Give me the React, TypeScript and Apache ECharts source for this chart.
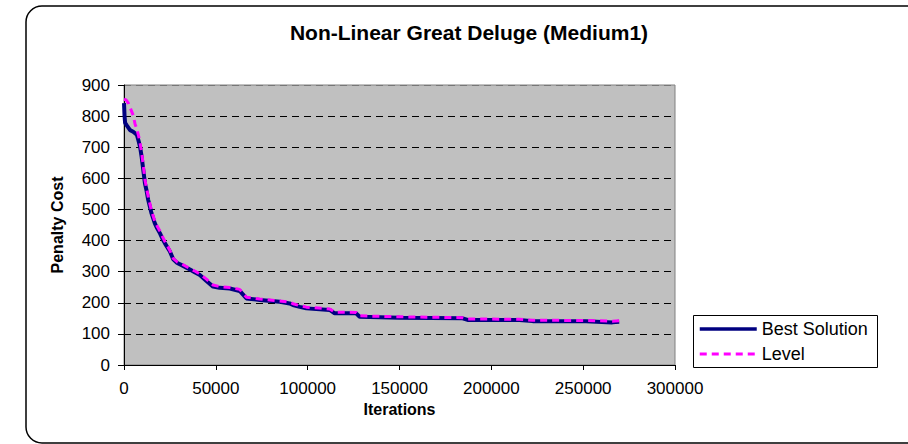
import React, { useEffect, useRef } from "react";
import * as echarts from "echarts";

const seriesNames = ["Best Solution", "Level"];

const bestSolution: [number, number][] = [
  [0, 842], [300, 800], [600, 778], [1500, 770], [3300, 755], [5000, 750], [6000, 745],
  [7000, 740], [7800, 723], [8800, 700], [9600, 669], [10500, 627], [11400, 584],
  [12300, 560], [13200, 530], [15000, 487], [16800, 455], [18000, 440], [19600, 423],
  [21000, 405], [22300, 391], [25000, 365], [26800, 340], [29000, 328], [31400, 321],
  [35900, 307], [38500, 298], [41300, 289], [44900, 270], [48500, 252], [52000, 248],
  [57600, 246], [63000, 238], [66700, 214], [73900, 209], [84800, 203], [90200, 198],
  [92000, 193], [95700, 187], [99300, 182], [112000, 177], [114700, 166], [126400, 166],
  [128300, 155], [150000, 152], [184400, 150], [187100, 145], [215200, 145],
  [222500, 141], [251500, 141], [265900, 137], [269600, 139],
];

const level: [number, number][] = [
  [0, 854], [1200, 852], [2500, 840], [3500, 825], [5000, 803], [6000, 775], [7000, 758],
  [8000, 735], [9000, 705], [9800, 675], [10600, 635], [11500, 592], [12400, 565],
  [13300, 538], [15000, 495], [16800, 462], [18000, 447], [19600, 430], [21000, 412],
  [22300, 397], [25000, 368], [26800, 343], [29000, 331], [31400, 325], [35900, 310],
  [38500, 302], [41300, 293], [44900, 276], [48500, 257], [52000, 252], [57600, 249],
  [63000, 243], [66700, 218], [73900, 212], [84800, 206], [90200, 202], [92000, 197],
  [95700, 191], [99300, 186], [112000, 180], [114700, 170], [126400, 169], [128300, 158],
  [150000, 155], [184400, 152], [187100, 148], [215200, 147], [222500, 144],
  [251500, 143], [265900, 141], [269600, 142],
];

const xTicks = { min: 0, max: 300000, interval: 50000 };
const yTicks = { min: 0, max: 900, interval: 100 };

const FONT = "'Liberation Sans', Arial, sans-serif";

export default function App() {
  const ref = useRef<HTMLDivElement>(null);
  useEffect(() => {
    if (!ref.current) return;
    const chart = echarts.init(ref.current, undefined, { renderer: "svg" });
    const splitColors = Array.from({ length: 10 }, (_, i) => (i === 9 ? "#777777" : "#000000"));
    chart.setOption({
      animation: false,
      backgroundColor: "#ffffff",
      textStyle: { fontFamily: FONT },
      graphic: [
        {
          type: "rect",
          shape: { x: 26, y: 6, width: 900, height: 437, r: 16 },
          style: { fill: "none", stroke: "#000", lineWidth: 1.5 },
          silent: true,
          z: -10,
        },
        {
          type: "text",
          x: 469,
          y: 32,
          style: {
            text: "Non-Linear Great Deluge (Medium1)",
            fontSize: 21,
            fontWeight: "bold",
            fontFamily: FONT,
            fill: "#000",
            align: "center",
            verticalAlign: "middle",
          },
        },
        {
          type: "rect",
          shape: { x: 693.5, y: 315.5, width: 184, height: 52 },
          style: { fill: "#fff", stroke: "#000", lineWidth: 1 },
          z: 1,
        },
      ],
      legend: {
        orient: "vertical",
        left: 698,
        top: 320,
        padding: 0,
        itemWidth: 57,
        itemHeight: 12,
        itemGap: 7,
        z: 10,
        itemStyle: { opacity: 0 },
        textStyle: { fontSize: 18, color: "#000", fontFamily: FONT },
        data: [
          { name: seriesNames[0], lineStyle: { width: 3.5 } },
          { name: seriesNames[1], lineStyle: { width: 3 } },
        ],
      },
      grid: {
        left: 124,
        top: 85,
        width: 551,
        height: 280,
        show: true,
        backgroundColor: "#C0C0C0",
        borderColor: "#808080",
        borderWidth: 1,
      },
      xAxis: {
        type: "value",
        min: xTicks.min,
        max: xTicks.max,
        interval: xTicks.interval,
        name: "Iterations",
        nameLocation: "middle",
        nameGap: 35,
        nameTextStyle: { fontSize: 16, fontWeight: "bold", color: "#000", fontFamily: FONT },
        axisLine: { show: true, lineStyle: { color: "#000", width: 1 } },
        axisTick: { show: true, length: 5, lineStyle: { color: "#000" } },
        axisLabel: {
          fontSize: 17,
          color: "#000",
          margin: 15,
          fontFamily: FONT,
          formatter: (v: number) => String(v),
        },
        splitLine: { show: false },
      },
      yAxis: {
        type: "value",
        min: yTicks.min,
        max: yTicks.max,
        interval: yTicks.interval,
        name: "Penalty Cost",
        nameLocation: "middle",
        nameRotate: 90,
        nameGap: 59,
        nameTextStyle: { fontSize: 16, fontWeight: "bold", color: "#000", fontFamily: FONT },
        axisLine: { show: true, lineStyle: { color: "#000", width: 1 } },
        axisTick: { show: true, length: 6, lineStyle: { color: "#000" } },
        axisLabel: { fontSize: 17, color: "#000", margin: 14, fontFamily: FONT },
        splitLine: {
          show: true,
          lineStyle: { color: splitColors, type: [7, 5], width: 1 },
        },
      },
      series: [
        {
          name: seriesNames[0],
          type: "line",
          data: bestSolution,
          symbol: "none",
          lineStyle: { color: "#000080", width: 4 },
          itemStyle: { color: "#000080" },
        },
        {
          name: seriesNames[1],
          type: "line",
          data: level,
          symbol: "none",
          lineStyle: { color: "#FF00FF", width: 3, type: [7, 5] },
          itemStyle: { color: "#FF00FF" },
        },
      ],
    });
    return () => chart.dispose();
  }, []);
  return (
    <div
      ref={ref}
      style={{ position: "fixed", left: 0, top: 0, width: 908, height: 444 }}
    />
  );
}
